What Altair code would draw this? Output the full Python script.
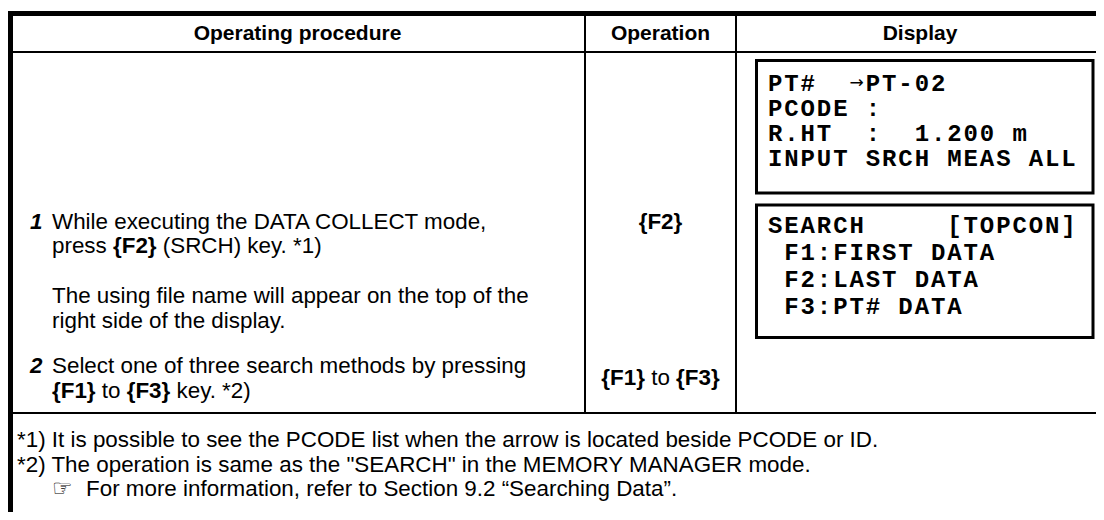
import altair as alt
import pandas as pd

# ---------------- content ----------------
HEADERS = ["Operating procedure", "Operation", "Display"]
STEP_NUMBERS = ["1", "2"]
STEP1_LINES = [
    [("While executing the DATA COLLECT mode,", "r")],
    [("press ", "r"), ("{F2}", "b"), (" (SRCH) key. *1)", "r")],
    [("The using file name will appear on the top of the", "r")],
    [("right side of the display.", "r")],
]
STEP2_LINES = [
    [("Select one of three search methods by pressing", "r")],
    [("{F1}", "b"), (" to ", "r"), ("{F3}", "b"), (" key. *2)", "r")],
]
OPERATION1 = [("{F2}", "b")]
OPERATION2 = [("{F1}", "b"), (" to ", "r"), ("{F3}", "b")]
DISPLAY1 = ["PT#  \u2192PT-02", "PCODE :", "R.HT  :  1.200 m", "INPUT SRCH MEAS ALL"]
DISPLAY2 = ["SEARCH     [TOPCON]", " F1:FIRST DATA", " F2:LAST DATA", " F3:PT# DATA"]
NOTES = [
    "*1) It is possible to see the PCODE list when the arrow is located beside PCODE or ID.",
    "*2) The operation is same as the \"SEARCH\" in the MEMORY MANAGER mode.",
]
REFERENCE_ICON = "\u261E"
REFERENCE_NOTE = "For more information, refer to Section 9.2 \u201cSearching Data\u201d."

# ---------------- layout (page pixel coordinates) ----------------
LEFT, COL1, COL2, RIGHT = 10, 585, 736, 1104
TOP, HEAD_BOTTOM, NOTE_TOP, BOTTOM = 13.5, 52, 413, 520
BOX1 = (756.5, 60.5, 1093, 193)
BOX2 = (756.5, 205, 1093, 337.5)
HEAD_Y = 40
NUM_X, TEXT_X = 30, 52
STEP1_Y = [229, 253, 303, 328]
STEP2_Y = [373, 398]
OP_X = (COL1 + COL2) / 2
OP_Y = [229, 385]
DISP_X = 767
DISP_PITCH = 16.3
DISP1_Y = [91, 116, 141, 166]
DISP2_Y = [233, 260, 287, 314]
NOTE_X = 17
NOTE_Y = [447, 471.5, 496]
ICON_X, REF_X = 52, 86

BODY = 22.4
HEAD = 21
MONO = 24

# Arial / Liberation Sans advance widths (per 1000 em)
REG_W = {' ': 278, '(': 333, ')': 333, '*': 389, '.': 278, ',': 278,
         'C': 722, 'H': 722, 'R': 722, 'S': 667,
         'e': 556, 'k': 500, 'o': 556, 'p': 556, 'r': 333, 's': 500, 't': 278, 'y': 500}
BOLD_W = {'{': 389, '}': 389, 'F': 611}


def text_width(s, style, size):
    table = BOLD_W if style == "b" else REG_W
    return sum(table.get(c, 556) for c in s) * size / 1000.0


def segments(parts, x0, y, size):
    rows = []
    x = x0
    for s, st in parts:
        core = s.lstrip(" ")
        lead = text_width(s[: len(s) - len(core)], st, size)
        rows.append({"t": core.rstrip(" "), "x": x + lead, "y": y, "st": st})
        x += text_width(s, st, size)
    return rows


def centered(parts, xc, y, size):
    total = sum(text_width(s, st, size) for s, st in parts)
    return segments(parts, xc - total / 2, y, size)


body_rows = []
for parts, y in zip(STEP1_LINES, STEP1_Y):
    body_rows += segments(parts, TEXT_X, y, BODY)
for parts, y in zip(STEP2_LINES, STEP2_Y):
    body_rows += segments(parts, TEXT_X, y, BODY)
body_rows += centered(OPERATION1, OP_X, OP_Y[0], BODY)
body_rows += centered(OPERATION2, OP_X, OP_Y[1], BODY)
for note, y in zip(NOTES, NOTE_Y[:2]):
    body_rows.append({"t": note, "x": NOTE_X, "y": y, "st": "r"})
body_rows.append({"t": REFERENCE_NOTE, "x": REF_X, "y": NOTE_Y[2], "st": "r"})
body_df = pd.DataFrame(body_rows)

head_df = pd.DataFrame({
    "t": HEADERS,
    "x": [(LEFT + COL1) / 2, (COL1 + COL2) / 2, (COL2 + RIGHT) / 2],
    "y": [HEAD_Y] * 3,
})
num_df = pd.DataFrame({"t": STEP_NUMBERS, "x": [NUM_X, NUM_X], "y": [STEP1_Y[0], STEP2_Y[0]]})

# display screens: fixed character cells, like an LCD
mono_rows = []
for lines, ys in ((DISPLAY1, DISP1_Y), (DISPLAY2, DISP2_Y)):
    for line, y in zip(lines, ys):
        for i, ch in enumerate(line):
            if ch == " ":
                continue
            mono_rows.append({"t": ch, "x": DISP_X + i * DISP_PITCH + DISP_PITCH / 2, "y": y,
                              "sym": ch == "\u2192"})
mono_df = pd.DataFrame(mono_rows)

icon_df = pd.DataFrame({"t": [REFERENCE_ICON], "x": [ICON_X], "y": [NOTE_Y[2]]})

rules_df = pd.DataFrame([
    {"x": 7, "x2": RIGHT, "y": TOP, "y2": TOP, "w": 5},
    {"x": LEFT, "x2": LEFT, "y": 11, "y2": BOTTOM, "w": 6},
    {"x": LEFT, "x2": RIGHT, "y": HEAD_BOTTOM, "y2": HEAD_BOTTOM, "w": 2},
    {"x": COL1, "x2": COL1, "y": TOP, "y2": NOTE_TOP, "w": 2},
    {"x": COL2, "x2": COL2, "y": TOP, "y2": NOTE_TOP, "w": 2},
    {"x": LEFT, "x2": RIGHT, "y": NOTE_TOP, "y2": NOTE_TOP, "w": 2},
])
boxes_df = pd.DataFrame([
    {"x": BOX1[0], "y": BOX1[1], "x2": BOX1[2], "y2": BOX1[3]},
    {"x": BOX2[0], "y": BOX2[1], "x2": BOX2[2], "y2": BOX2[3]},
])

W, H = 1088, 504
XS = alt.Scale(domain=[8, 8 + W], range=[0, W], nice=False, zero=False)
YS = alt.Scale(domain=[8, 8 + H], range=[0, H], nice=False, zero=False)
X = alt.X("x:Q", scale=XS, axis=None)
Y = alt.Y("y:Q", scale=YS, axis=None)

rules = alt.Chart(rules_df).mark_rule(color="black").encode(
    x=X, x2="x2:Q", y=Y, y2="y2:Q",
    strokeWidth=alt.StrokeWidth("w:Q", scale=None, legend=None),
)
boxes = alt.Chart(boxes_df).mark_rect(fillOpacity=0, stroke="black", strokeWidth=3).encode(
    x=X, x2="x2:Q", y=Y, y2="y2:Q"
)

sans = "Liberation Sans, Arial, sans-serif"
heads = alt.Chart(head_df).mark_text(
    font=sans, fontSize=HEAD, fontWeight="bold", align="center", baseline="alphabetic", color="black"
).encode(x=X, y=Y, text="t:N")
reg = alt.Chart(body_df[body_df.st == "r"]).mark_text(
    font=sans, fontSize=BODY, align="left", baseline="alphabetic", color="black"
).encode(x=X, y=Y, text="t:N")
bold = alt.Chart(body_df[body_df.st == "b"]).mark_text(
    font=sans, fontSize=BODY, fontWeight="bold", align="left", baseline="alphabetic", color="black"
).encode(x=X, y=Y, text="t:N")
nums = alt.Chart(num_df).mark_text(
    font=sans, fontSize=BODY, fontWeight="bold", fontStyle="italic", align="left",
    baseline="alphabetic", color="black"
).encode(x=X, y=Y, text="t:N")
mono = alt.Chart(mono_df[~mono_df.sym]).mark_text(
    font="Liberation Mono, Courier New, monospace", fontSize=MONO, fontWeight="bold",
    align="center", baseline="alphabetic", color="black"
).encode(x=X, y=Y, text="t:N")
arrow = alt.Chart(mono_df[mono_df.sym]).mark_text(
    font="DejaVu Sans", fontSize=17, align="center", baseline="alphabetic", color="black", dy=-3
).encode(x=X, y=Y, text="t:N")
icon = alt.Chart(icon_df).mark_text(
    font="DejaVu Sans", fontSize=23, align="left", baseline="alphabetic", color="black"
).encode(x=X, y=Y, text="t:N")

chart = alt.layer(rules, boxes, heads, reg, bold, nums, mono, arrow, icon).properties(
    width=W, height=H, padding=0, autosize="none"
).configure_view(stroke=None)

chart.save("out.html", embed_options={"renderer": "svg", "actions": False})
